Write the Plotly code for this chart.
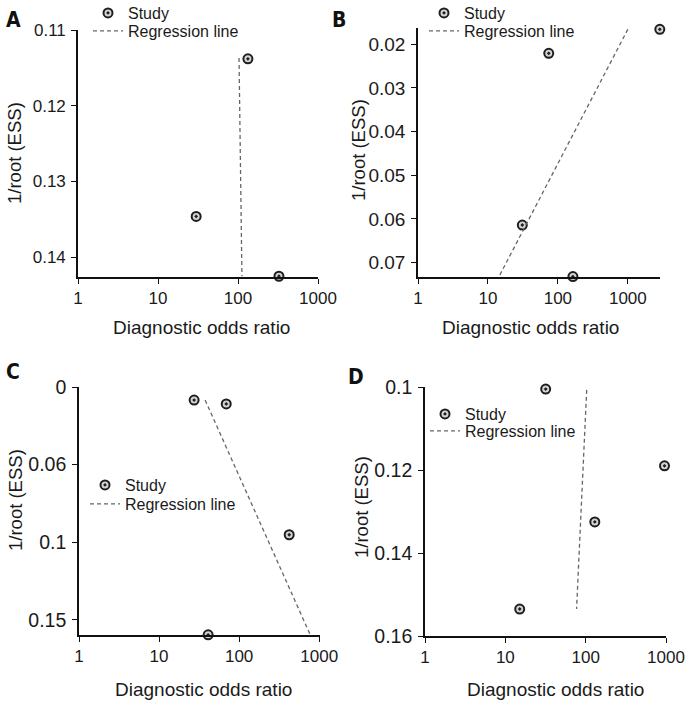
import plotly.graph_objects as go

W, H = 686, 704

# ---- data ----
A_dor = [133, 30, 325]
A_se = [0.1138, 0.1346, 0.1425]
A_reg_dor = [103, 112]
A_reg_se = [0.1137, 0.1425]

B_dor = [2865, 74, 31, 164]
B_se = [0.0166, 0.0221, 0.0614, 0.0732]
B_reg_dor = [1000, 14.4]
B_reg_se = [0.0166, 0.0732]

C_dor = [27.4, 69, 422, 41]
C_se = [0.0084, 0.0109, 0.0952, 0.1597]
C_reg_dor = [37.6, 773]
C_reg_se = [0.0084, 0.1597]

D_dor = [31.8, 958, 130, 15.1]
D_se = [0.1005, 0.119, 0.1325, 0.1535]
D_reg_dor = [103, 77]
D_reg_se = [0.1007, 0.1535]

x_tickvals = [1, 10, 100, 1000]
x_ticktext = ["1", "10", "100", "1000"]

A_yticks = [0.11, 0.12, 0.13, 0.14]
A_yticktext = ["0.11", "0.12", "0.13", "0.14"]
B_yticks = [0.02, 0.03, 0.04, 0.05, 0.06, 0.07]
B_yticktext = ["0.02", "0.03", "0.04", "0.05", "0.06", "0.07"]
C_yticks = [0, 0.05, 0.1, 0.15]
C_yticktext = ["0", "0.06", "0.1", "0.15"]
D_yticks = [0.1, 0.12, 0.14, 0.16]
D_yticktext = ["0.1", "0.12", "0.14", "0.16"]

panels = [
    dict(letter="A", dor=A_dor, se=A_se, rdor=A_reg_dor, rse=A_reg_se,
         yt=A_yticks, ytt=A_yticktext, yr=[0.1426, 0.11], xr=[0, 3], yfs=17,
         box=(78, 318, 30, 277), leg=(88, -4, 14), letpos=(4, 6),
         ytitle=(15, 153), xtitle=(201, 328)),
    dict(letter="B", dor=B_dor, se=B_se, rdor=B_reg_dor, rse=B_reg_se,
         yt=B_yticks, ytt=B_yticktext, yr=[0.0733, 0.0163], xr=[0, 3.46], yfs=19,
         box=(418, 660, 28, 277), leg=(424, -4, 14), letpos=(330, 6),
         ytitle=(358, 150), xtitle=(530, 328)),
    dict(letter="C", dor=C_dor, se=C_se, rdor=C_reg_dor, rse=C_reg_se,
         yt=C_yticks, ytt=C_yticktext, yr=[0.1598, 0], xr=[0, 3.01], yfs=19.5,
         box=(79, 320, 387, 635), leg=(85, 468, 487), letpos=(4, 358),
         ytitle=(15, 500), xtitle=(203, 689)),
    dict(letter="D", dor=D_dor, se=D_se, rdor=D_reg_dor, rse=D_reg_se,
         yt=D_yticks, ytt=D_yticktext, yr=[0.16, 0.1], xr=[0, 3], yfs=19.5,
         box=(425, 666, 387, 636), leg=(425, 397, 414), letpos=(346, 363),
         ytitle=(361, 507), xtitle=(555, 689)),
]

FONT = "Liberation Sans, Arial, sans-serif"
fig = go.Figure()
annotations = []
layout = dict(
    width=W, height=H,
    margin=dict(l=0, r=0, t=0, b=0, autoexpand=False),
    paper_bgcolor="white", plot_bgcolor="white",
    font=dict(family=FONT, size=16, color="#1a1a1a"),
    showlegend=True,
)

def legend_id(n):
    return "legend" if n == 1 else "legend" + str(n)

for i, p in enumerate(panels, start=1):
    sfx = "" if i == 1 else str(i)
    xa, ya = "x" + sfx, "y" + sfx
    leg_s = legend_id(2 * i - 1)
    leg_r = legend_id(2 * i)
    x0, x1, y0, y1 = p["box"]
    fig.add_trace(go.Scatter(
        x=p["dor"], y=p["se"], mode="markers", name="Study",
        xaxis=xa, yaxis=ya, legend=leg_s, cliponaxis=False, showlegend=True,
        marker=dict(symbol="circle-dot", size=9, color="#d4d4d4",
                    line=dict(color="#1e1e1e", width=2)),
    ))
    fig.add_trace(go.Scatter(
        x=p["rdor"], y=p["rse"], mode="lines", name="Regression line",
        xaxis=xa, yaxis=ya, legend=leg_r, cliponaxis=False, showlegend=True,
        line=dict(color="#666666", width=1.3, dash="4px,3px"),
    ))
    layout["xaxis" + sfx] = dict(
        type="log", range=p["xr"], domain=[x0 / W, x1 / W], anchor=ya,
        tickvals=x_tickvals, ticktext=x_ticktext,
        showline=True, linecolor="#111", linewidth=1.6,
        ticks="outside", ticklen=5, tickwidth=1.3, tickcolor="#111",
        showgrid=False, zeroline=False, tickfont=dict(size=17),
    )
    layout["yaxis" + sfx] = dict(
        range=p["yr"], domain=[1 - y1 / H, 1 - y0 / H], anchor=xa,
        tickvals=p["yt"], ticktext=p["ytt"],
        showline=True, linecolor="#111", linewidth=1.6,
        ticks="outside", ticklen=5, tickwidth=1.3, tickcolor="#111",
        showgrid=False, zeroline=False, tickfont=dict(size=p["yfs"]),
        ticklabelstandoff=2,
    )
    lx, ly_s, ly_r = p["leg"]
    for lid, ly in ((leg_s, ly_s), (leg_r, ly_r)):
        layout[lid] = dict(
            x=lx / W, y=1 - ly / H, xanchor="left", yanchor="top",
            bgcolor="rgba(0,0,0,0)", font=dict(size=16, color="#1a1a1a"),
            borderwidth=0, visible=True,
        )
    annotations.append(dict(
        text="<b>" + p["letter"] + "</b>", xref="paper", yref="paper",
        x=p["letpos"][0] / W, y=1 - p["letpos"][1] / H,
        xanchor="left", yanchor="top", showarrow=False,
        font=dict(family="Liberation Sans Narrow, DejaVu Sans Condensed, sans-serif",
                  size=21, color="#111"),
    ))
    annotations.append(dict(
        text="1/root (ESS)", xref="paper", yref="paper", textangle=-90,
        x=p["ytitle"][0] / W, y=1 - p["ytitle"][1] / H,
        xanchor="center", yanchor="middle", showarrow=False,
        font=dict(size=18.5, color="#1a1a1a"),
    ))
    annotations.append(dict(
        text="Diagnostic odds ratio", xref="paper", yref="paper",
        x=p["xtitle"][0] / W, y=1 - p["xtitle"][1] / H,
        xanchor="center", yanchor="middle", showarrow=False,
        font=dict(size=19, color="#1a1a1a"),
    ))

layout["annotations"] = annotations
fig.update_layout(**layout)
fig.write_html("out.html", config={"displayModeBar": False},
               post_script="document.body.style.margin='0';document.body.style.padding='0';")
